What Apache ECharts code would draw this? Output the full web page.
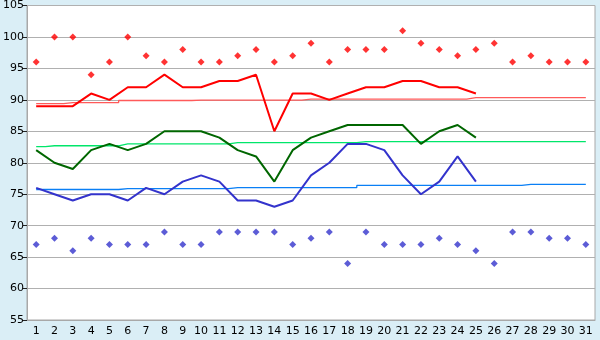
<!DOCTYPE html>
<html><head><meta charset="utf-8">
<script src="https://cdn.jsdelivr.net/npm/echarts@6/dist/echarts.min.js"></script>
<style>html,body{margin:0;padding:0;background:#daeef6;}#c{width:600px;height:340px;}</style>
</head><body><div id="c"></div>
<script>
const days = Array.from({length:31},(_,i)=>String(i+1));
const yTicks = [55,60,65,70,75,80,85,90,95,100,105];
const highs = [89,89,89,91,90,92,92,94,92,92,93,93,94,85,91,91,90,91,92,92,93,93,92,92,91];
const means = [82,80,79,82,83,82,83,85,85,85,84,82,81,77,82,84,85,86,86,86,86,83,85,86,84];
const lows  = [76,75,74,75,75,74,76,75,77,78,77,74,74,73,74,78,80,83,83,82,78,75,77,81,77];
const recHigh = [96,100,100,94,96,100,97,96,98,96,96,97,98,96,97,99,96,98,98,98,101,99,98,97,98,99,96,97,96,96,96];
const recLow  = [67,68,66,68,67,67,67,69,67,67,69,69,69,69,67,68,69,64,69,67,67,67,68,67,66,64,69,69,68,68,67];
const normHigh = [89.4,89.4,89.55,89.55,89.55,89.9,89.9,89.9,89.9,89.95,89.95,89.95,89.95,89.95,89.95,90.1,90.1,90.1,90.1,90.1,90.1,90.1,90.1,90.1,90.35,90.35,90.35,90.35,90.35,90.35,90.35];
const normMean = [82.55,82.7,82.7,82.7,82.7,83.0,83.0,83.0,83.0,83.0,83.0,83.2,83.2,83.2,83.2,83.2,83.2,83.2,83.35,83.35,83.35,83.35,83.35,83.35,83.35,83.35,83.35,83.35,83.35,83.35,83.35];
const normLow  = [75.75,75.75,75.75,75.75,75.75,75.9,75.9,75.9,75.9,75.9,75.9,76.05,76.05,76.05,76.05,76.05,76.05,76.05,76.4,76.4,76.4,76.4,76.4,76.4,76.4,76.4,76.4,76.55,76.55,76.55,76.55];

const font = 'DejaVu Sans';
const chart = echarts.init(document.getElementById('c'), null, {renderer:'canvas'});
function line(data,color,w,step){return {type:'line',data,symbol:'none',step:step||false,lineStyle:{color,width:w},itemStyle:{color},silent:true,animation:false,z:step?2:3};}
function pts(data,color){return {type:'scatter',data,symbol:'diamond',symbolSize:7,itemStyle:{color},animation:false,z:4};}
chart.setOption({
  backgroundColor:'#daeef6',
  animation:false,
  grid:{left:27,right:5,top:5,bottom:20,show:true,backgroundColor:'#ffffff',borderColor:'#a8a8a8',borderWidth:1},
  xAxis:{type:'category',data:days,boundaryGap:true,
    axisLine:{lineStyle:{color:'#a8a8a8'}},
    axisTick:{alignWithLabel:true,length:4,lineStyle:{color:'#222'}},
    axisLabel:{color:'#000',fontFamily:font,fontSize:11,margin:6,interval:0}},
  yAxis:{type:'value',min:yTicks[0],max:yTicks[yTicks.length-1],interval:5,
    axisLine:{show:true,lineStyle:{color:'#a8a8a8'}},
    axisTick:{show:true,length:4,lineStyle:{color:'#222'}},
    splitLine:{lineStyle:{color:'#b0b0b0',width:1}},
    axisLabel:{color:'#000',fontFamily:font,fontSize:11,margin:3}},
  series:[
    line(normHigh,'#ff5a5a',1.3,'middle'),
    line(normMean,'#00e66a',1.3,'middle'),
    line(normLow,'#0a7ff5',1.3,'middle'),
    line(highs,'#ff0000',2),
    line(means,'#006600',2),
    line(lows,'#3333cc',2),
    pts(recHigh,'#ff0000'),
    pts(recLow,'#3333cc')
  ]
});
</script></body></html>
